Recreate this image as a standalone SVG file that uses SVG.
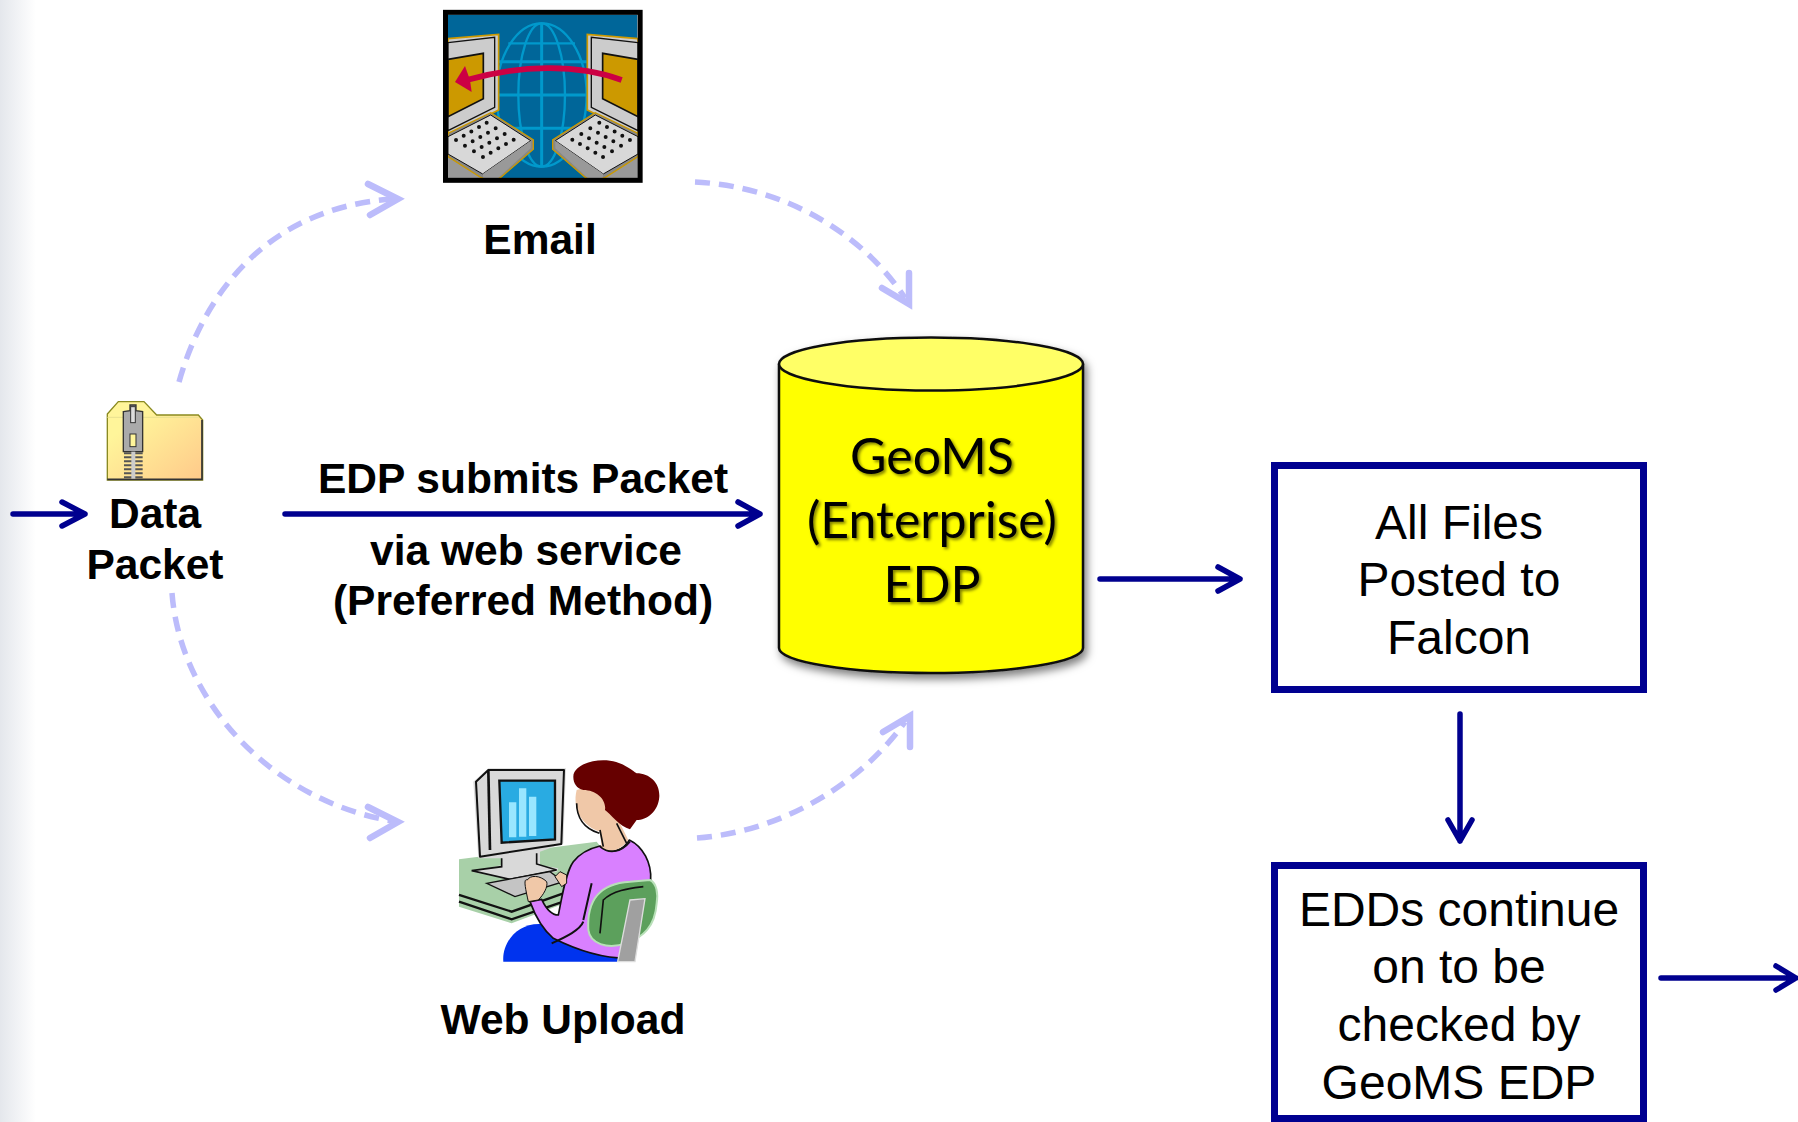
<svg xmlns="http://www.w3.org/2000/svg" width="1798" height="1122" viewBox="0 0 1798 1122">
<style>
.b{font-family:"Liberation Sans",Arial,sans-serif;font-weight:700;font-size:42.500px;fill:#000;text-anchor:middle}
.r{font-family:"Liberation Sans",Arial,sans-serif;font-size:48px;fill:#000;text-anchor:middle}
.g{font-family:Lato,"Open Sans",sans-serif;font-size:50px;fill:#000;text-anchor:middle}
.box{fill:#fff;stroke:#000090;stroke-width:7}
.solid{fill:none;stroke:#00008f;stroke-width:5.5;stroke-linecap:round;stroke-linejoin:round}
.dash{fill:none;stroke:#bcbcfb;stroke-width:5.5;stroke-dasharray:15 9}
.head{fill:none;stroke:#bcbcfb;stroke-width:6.500;stroke-linecap:round;stroke-linejoin:miter}
.keys{fill:none;stroke:#111;stroke-width:12;stroke-linecap:round;stroke-dasharray:0 26.450}
</style>
<defs>
<linearGradient id="side" x1="0" x2="1" y1="0" y2="0"><stop offset="0" stop-color="#e4e7ec"/><stop offset="1" stop-color="#fff"/></linearGradient>
<linearGradient id="fold" x1="0" x2="1" y1="0" y2="1"><stop offset=".25" stop-color="#fff59a"/><stop offset="1" stop-color="#ffc98a"/></linearGradient>
<filter id="sh" x="-10%" y="-10%" width="125%" height="125%"><feDropShadow dx="3" dy="5" stdDeviation="4" flood-color="#000" flood-opacity=".5"/></filter>
<filter id="ts" x="-10%" y="-10%" width="125%" height="125%"><feDropShadow dx="2" dy="2" stdDeviation="1.5" flood-color="#000" flood-opacity=".5"/></filter>
<g id="pc">
<path d="M84 116L236 103V330L84 405Z" fill="#ccc" stroke="#cc9900" stroke-width="5"/>
<path d="M84 128L224 112V322L84 392Z" fill="#ccc" stroke="#111" stroke-width="4"/>
<path d="M84 178L190 160V296L84 350Z" fill="#cc9900" stroke="#111" stroke-width="5"/>
<path d="M84 534V470L185 534Z" fill="#999"/>
<path d="M84 400L212 338L340 420V448L240 534H185L84 470Z" fill="#888" stroke="#cc9900" stroke-width="4"/>
<path d="M84 410L212 345L332 422L188 522L84 462Z" fill="#d8d8d8" stroke="#111" stroke-width="3"/>
<path d="M188 522L332 422V445L235 534H190Z" fill="#999"/>
<path class="keys" d="M200 368L107 421M227 385L112 450M254 402L139 467M281 419L166 484"/>
</g>
</defs>
<rect width="1798" height="1122" fill="#fff"/>
<rect width="36" height="1122" fill="url(#side)"/>

<g id="connectors">
<path class="dash" d="M179 382C205 290 270 208 392 199"/>
<path class="head" d="M368 184L398 199L370 215"/>
<path class="dash" d="M695 182C780 186 860 230 905 298"/>
<path class="head" d="M909 273L909 304L882 288"/>
<path class="dash" d="M172 593C180 700 270 800 392 821"/>
<path class="head" d="M368 807L398 822L370 838"/>
<path class="dash" d="M697 838C780 832 860 785 905 722"/>
<path class="head" d="M883 732L910 716L910 747"/>
<path class="solid" d="M13 514H85M62 502L85 514L62 526"/>
<path class="solid" d="M285 514H760M738 502L760 514L738 526"/>
<path class="solid" d="M1100 579H1240M1218 567L1240 579L1218 591"/>
<path class="solid" d="M1460 714V841M1448 820L1460 841L1472 820"/>
<path class="solid" d="M1661 978H1796M1776 966L1796 978L1776 990"/>
</g>

<g id="email-icon" transform="translate(420 0) scale(.3333)">
<rect x="84" y="44" width="568" height="490" fill="#006699"/>
<g fill="none" stroke="#0099cc" stroke-width="7">
<ellipse cx="365" cy="285" rx="135" ry="215"/>
<ellipse cx="365" cy="285" rx="70" ry="215"/>
<path d="M365 70V500M230 185H500M230 285H500M245 385H485" stroke-width="9"/>
<path d="M265 130H465"/>
</g>
<use href="#pc"/>
<use href="#pc" transform="translate(738 0) scale(-1 1)"/>
<path d="M605 240C470 190 300 195 140 240" fill="none" stroke="#cc0044" stroke-width="17"/>
<path d="M105 246L135 198L150 240L155 276Z" fill="#cc0044"/>
<rect x="76.500" y="37" width="584" height="504" fill="none" stroke="#000" stroke-width="15"/>
</g>

<g id="email"><text class="b" x="540" y="254">Email</text></g>

<g id="data-packet">
<g transform="translate(0 370) scale(.3333)">
<path d="M322 132L355 95H432L470 135H595L608 150V330H322Z" fill="url(#fold)" stroke="#8a8a20" stroke-width="4"/>
<path d="M322 328H606V150" fill="none" stroke="#333" stroke-width="5"/>
<path d="M322 142H595" stroke="#e8e090" stroke-width="3"/>
<path d="M370 125L390 122V105H408V122L428 125V245H370Z" fill="#aaa" stroke="#333" stroke-width="4"/>
<rect x="390" y="192" width="18" height="38" fill="#fff59a" stroke="#333" stroke-width="3"/>
<rect x="392" y="110" width="14" height="48" fill="#ddd" stroke="#333" stroke-width="3"/>
<path d="M372 250H428M372 262H428M372 274H428M372 286H428M372 298H428M372 310H428M372 322H428" stroke="#555" stroke-width="6"/>
<path d="M400 245V326" stroke="#ccc" stroke-width="12"/>
</g>
<text class="b" x="155" y="528">Data</text>
<text class="b" x="155" y="579">Packet</text>
</g>

<g id="label-via">
<text class="b" x="523" y="493">EDP submits Packet</text>
<text class="b" x="526" y="565">via web service</text>
<text class="b" x="523" y="615">(Preferred Method)</text>
</g>

<g id="geoms">
<g filter="url(#sh)">
<path d="M779 365V648C779 662 850 673 931 673S1083 662 1083 648V365Z" fill="#ffff00" stroke="#111" stroke-width="2.500"/>
<ellipse cx="931" cy="364" rx="152" ry="26.500" fill="#ffff66" stroke="#111" stroke-width="2.500"/>
</g>
<g filter="url(#ts)">
<text class="g" x="932" y="474">GeoMS</text>
<text class="g" x="932" y="538">(Enterprise)</text>
<text class="g" x="932" y="602">EDP</text>
</g>
</g>

<g id="all-files">
<rect class="box" x="1274.500" y="465.500" width="369" height="224"/>
<text class="r" x="1459" y="539">All Files</text>
<text class="r" x="1459" y="596">Posted to</text>
<text class="r" x="1459" y="654">Falcon</text>
</g>

<g id="edds">
<rect class="box" x="1274.500" y="865.500" width="369" height="253"/>
<text class="r" x="1459" y="926">EDDs continue</text>
<text class="r" x="1459" y="983">on to be</text>
<text class="r" x="1459" y="1041">checked by</text>
<text class="r" x="1459" y="1099">GeoMS EDP</text>
</g>

<g id="web-upload-icon" transform="translate(440 740) scale(.3333)">
<path d="M57 358L470 305L560 420L215 550L57 500Z" fill="#a8d0a8"/>
<path d="M57 465L215 515L370 460M57 485L215 538L370 485" fill="none" stroke="#111" stroke-width="7"/>
<path d="M100 125L145 85H378L370 310L300 335V375L355 385L350 395L210 420L95 395L185 375V355L115 355Z" fill="#d9d9d9"/>
<path d="M145 90H372L364 312L120 350L108 125Z" fill="#d9d9d9" stroke="#111" stroke-width="6" stroke-linejoin="round"/>
<path d="M145 90L150 330" stroke="#111" stroke-width="8"/>
<path d="M178 122H345V298L185 308Z" fill="#29abe2" stroke="#111" stroke-width="7"/>
<path d="M207 187h22V292h-22ZM237 145h22V290h-22ZM267 170h22V288h-22Z" fill="#99e6ff"/>
<path d="M185 355V380L95 392L210 418L350 390L290 372V340" fill="#d9d9d9" stroke="#111" stroke-width="5"/>
<path d="M140 430L330 395L370 425L225 470Z" fill="#c4c4c4" stroke="#111" stroke-width="4"/>
<path d="M190 665C185 610 230 550 300 552L560 640V665Z" fill="#0033ee"/>
<path d="M480 318C520 345 550 330 568 300C610 320 635 370 632 420L560 655C490 655 410 630 340 595C310 570 290 540 270 485L305 478C320 510 335 525 355 525C365 480 375 400 400 365C420 340 450 325 480 318Z" fill="#d980ff" stroke="#111" stroke-width="5" stroke-linejoin="round"/>
<path d="M265 485C255 440 250 415 262 420C270 405 300 405 320 425C325 440 310 465 295 480Z" fill="#f0c8a8" stroke="#111" stroke-width="3"/>
<path d="M345 410L360 395L380 405V430L365 440Z" fill="#f0c8a8" stroke="#111" stroke-width="3"/>
<path d="M430 540L455 430M335 610C380 590 420 570 430 545" fill="none" stroke="#111" stroke-width="6"/>
<path d="M410 150C395 210 430 260 480 275L485 325C520 345 550 320 565 300L540 250L480 130Z" fill="#f0c8a8"/>
<path d="M480 320C510 345 545 335 570 305M480 270L490 320M530 250L560 310M410 190C410 230 430 265 478 280" fill="none" stroke="#111" stroke-width="5"/>
<path d="M400 110C400 80 450 55 510 62C550 68 575 90 590 100C630 100 660 130 658 170C655 215 620 240 590 240L570 268C540 260 510 220 495 210C500 180 470 150 430 150C410 145 400 130 400 110Z" fill="#660000"/>
<path d="M445 570C440 480 480 430 570 425L630 420C650 430 655 460 650 490C645 560 610 590 560 610C500 630 450 610 445 570Z" fill="#5ca05c" stroke="#b8e0b8" stroke-width="6"/>
<path d="M480 580L490 480C520 450 570 445 610 440" fill="none" stroke="#111" stroke-width="5"/>
<path d="M570 480L615 476L585 665H533Z" fill="#a0a0a0" stroke="#ddd" stroke-width="4"/>
</g>

<g id="web-upload"><text class="b" x="563" y="1034">Web Upload</text></g>
</svg>
